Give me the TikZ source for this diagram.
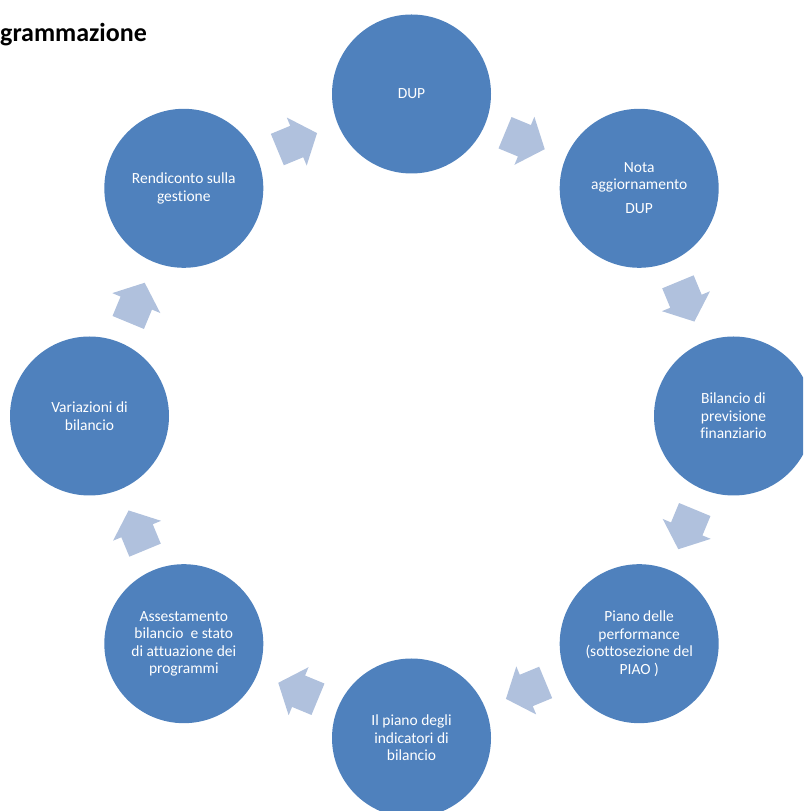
\documentclass[tikz,border=0pt]{standalone}
\usepackage{fontspec}
\setmainfont[Ligatures=NoCommon]{Carlito}
\usetikzlibrary{calc}
\definecolor{circblue}{RGB}{79,129,189}
\definecolor{arrblue}{RGB}{176,193,221}
\tikzset{
  stage/.style={circle, fill=circblue, draw=none, minimum size=159pt, inner sep=0pt,
    text=white, align=center, font=\fontsize{15.5}{17.5}\selectfont},
  blockarr/.pic={\fill[arrblue] (-22,-17) -- (-1,-17) -- (-1,-26) -- (21,0)
    -- (-1,26) -- (-1,17) -- (-22,17) -- cycle;},
  titletext/.style={font=\fontsize{26}{30}\selectfont\bfseries, inner sep=0pt}
}
\begin{document}
\begin{tikzpicture}[x=1pt,y=1pt]
\useasboundingbox (0,0) rectangle (803,811);
\clip (0,0) rectangle (803,811);
\coordinate (C) at (411.5,395);
\node[titletext, anchor=base west] (title) at (0,769.3) {grammazione};
\node[stage] (n0) at ($(C)+(90:322)$) {DUP};
\node[stage] (n1) at ($(C)+(45:322)$) {Nota\\aggiornamento\\[6.5pt]DUP};
\node[stage] (n2) at ($(C)+(0:322)$) {Bilancio di\\previsione\\finanziario};
\node[stage] (n3) at ($(C)+(-45:322)$) {Piano delle\\performance\\(sottosezione del\\PIAO\ )};
\node[stage] (n4) at ($(C)+(-90:322)$) {Il piano degli\\indicatori di\\bilancio};
\node[stage] (n5) at ($(C)+(-135:322)$) {Assestamento\\bilancio\ \ e stato\\di attuazione dei\\programmi};
\node[stage] (n6) at ($(C)+(180:322)$) {Variazioni di\\bilancio};
\node[stage] (n7) at ($(C)+(135:322)$) {Rendiconto sulla\\gestione};
\pic[rotate=-22.5] at ($(n0)!0.5!(n1)$) {blockarr};
\pic[rotate=-67.5] at ($(n1)!0.5!(n2)$) {blockarr};
\pic[rotate=-112.5] at ($(n2)!0.5!(n3)$) {blockarr};
\pic[rotate=-157.5] at ($(n3)!0.5!(n4)$) {blockarr};
\pic[rotate=-202.5] at ($(n4)!0.5!(n5)$) {blockarr};
\pic[rotate=-247.5] at ($(n5)!0.5!(n6)$) {blockarr};
\pic[rotate=-292.5] at ($(n6)!0.5!(n7)$) {blockarr};
\pic[rotate=22.5] at ($(n7)!0.5!(n0)$) {blockarr};
\end{tikzpicture}
\end{document}
